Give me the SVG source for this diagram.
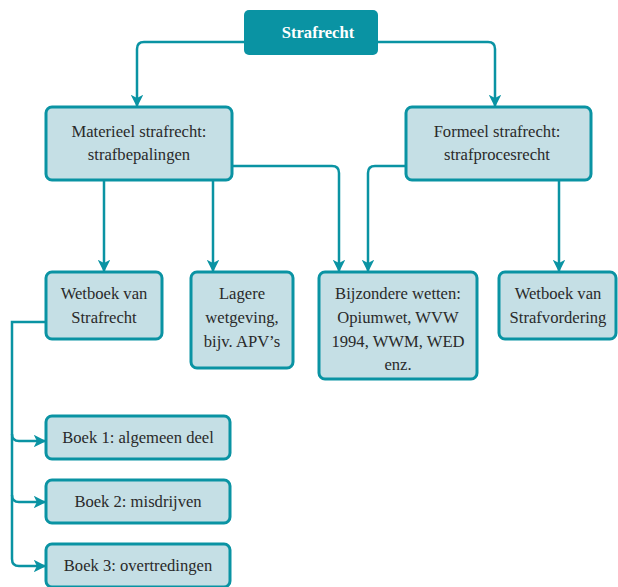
<svg xmlns="http://www.w3.org/2000/svg" width="618" height="587" viewBox="0 0 618 587">
<defs>
<marker id="ah" viewBox="0 0 10 10" refX="9" refY="5" markerWidth="5" markerHeight="5" orient="auto" markerUnits="strokeWidth">
<path d="M0,0 L10,5 L0,10 L2.5,5 Z" fill="#0a93a3"/>
</marker>
<style>
.box{fill:#c5dfe5;stroke:#0a93a3;stroke-width:3}
.t{font-size:16.6px;fill:#2a2a2a;text-anchor:middle}
.c{fill:none;stroke:#0a93a3;stroke-width:2.5;marker-end:url(#ah)}
</style>
</defs>
<rect width="618" height="587" fill="#ffffff"/>
<g id="connectors">
<path class="c" d="M244,42 H144 Q137,42 137,49 V106"/>
<path class="c" d="M378,42 H488 Q495,42 495,49 V106"/>
<path class="c" d="M104,181 V271"/>
<path class="c" d="M213,181 V271"/>
<path class="c" d="M232,166 H332 Q339,166 339,173 V271"/>
<path class="c" d="M406,166 H375 Q368,166 368,173 V271"/>
<path class="c" d="M559,181 V271"/>
<path class="c" d="M46,322 H12 V434 Q12,441 19,441 H45"/>
<path class="c" d="M12,434 V495 Q12,502 19,502 H45"/>
<path class="c" d="M12,495 V559 Q12,566 19,566 H45"/>
</g>
<g font-family="Liberation Serif, Times New Roman, serif">
<g id="strafrecht">
<rect x="244" y="10" width="134" height="45" rx="5" fill="#0a93a3"/>
<text x="318" y="38" class="t" style="fill:#ffffff;font-weight:bold">Strafrecht</text>
</g>
<g id="materieel">
<rect class="box" x="46" y="107" width="186" height="73" rx="6"/>
<text class="t" x="139" y="137">Materieel strafrecht:</text>
<text class="t" x="139" y="160">strafbepalingen</text>
</g>
<g id="formeel">
<rect class="box" x="406" y="107" width="185" height="73" rx="6"/>
<text class="t" x="497" y="137">Formeel strafrecht:</text>
<text class="t" x="497" y="160">strafprocesrecht</text>
</g>
<g id="wvs">
<rect class="box" x="46" y="272" width="116" height="67" rx="6"/>
<text class="t" x="104" y="299">Wetboek van</text>
<text class="t" x="104" y="323">Strafrecht</text>
</g>
<g id="lagere">
<rect class="box" x="191" y="272" width="102" height="96" rx="6"/>
<text class="t" x="242" y="299">Lagere</text>
<text class="t" x="242" y="323">wetgeving,</text>
<text class="t" x="242" y="347">bijv. APV’s</text>
</g>
<g id="bijzondere">
<rect class="box" x="319" y="272" width="158" height="107" rx="6"/>
<text class="t" x="398" y="299">Bijzondere wetten:</text>
<text class="t" x="398" y="323">Opiumwet, WVW</text>
<text class="t" x="398" y="347">1994, WWM, WED</text>
<text class="t" x="398" y="370">enz.</text>
</g>
<g id="wvsv">
<rect class="box" x="499" y="272" width="117" height="67" rx="6"/>
<text class="t" x="558" y="299">Wetboek van</text>
<text class="t" x="558" y="323">Strafvordering</text>
</g>
<g id="boek1">
<rect class="box" x="46" y="416" width="184" height="43" rx="6"/>
<text class="t" x="138" y="443">Boek 1: algemeen deel</text>
</g>
<g id="boek2">
<rect class="box" x="46" y="480" width="184" height="43" rx="6"/>
<text class="t" x="138" y="507">Boek 2: misdrijven</text>
</g>
<g id="boek3">
<rect class="box" x="46" y="544" width="184" height="43" rx="6"/>
<text class="t" x="138" y="571">Boek 3: overtredingen</text>
</g>
</g>
</svg>
